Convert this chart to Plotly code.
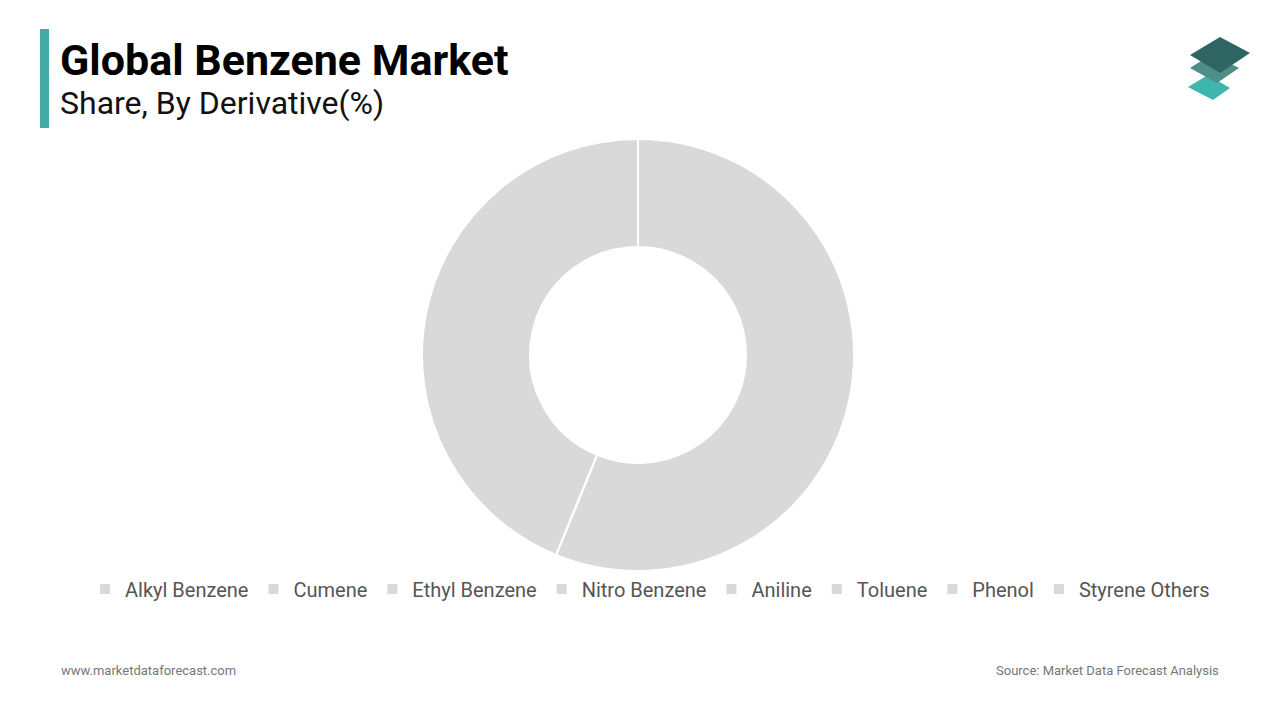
import plotly.graph_objects as go

W, H = 1280, 720
OFF = 8  # page body margin offset

labels = ["Alkyl Benzene", "Cumene", "Ethyl Benzene", "Nitro Benzene",
          "Aniline", "Toluene", "Phenol", "Styrene Others"]
values = [56.2, 0, 0, 0, 0, 0, 0, 43.8]
colors = ["#d9d9d9"] * len(labels)

title = "Global Benzene Market"
subtitle = "Share, By Derivative(%)"
footer_left = "www.marketdataforecast.com"
footer_right = "Source: Market Data Forecast Analysis"


def px(x):
    return (x - OFF) / W


def py(y):
    return 1 - (y - OFF) / H


def path(pts):
    return "M " + " L ".join(f"{px(x)},{py(y)}" for x, y in pts) + " Z"


fig = go.Figure(go.Pie(
    labels=labels,
    values=values,
    hole=0.5,
    sort=False,
    direction="clockwise",
    rotation=0,
    marker=dict(colors=colors, line=dict(color="white", width=2)),
    textinfo="none",
    hoverinfo="label+percent",
    domain=dict(x=[px(638 - 216), px(638 + 216)], y=[py(571), py(139)]),
))

shapes = [
    dict(type="rect", xref="paper", yref="paper",
         x0=px(40), x1=px(49), y0=py(128), y1=py(29),
         fillcolor="#45aaa8", line=dict(width=0)),
    dict(type="path", xref="paper", yref="paper",
         path=path([(1188, 87), (1208, 75), (1230, 88), (1213, 100)]),
         fillcolor="#3fb5b0", line=dict(width=0)),
    dict(type="path", xref="paper", yref="paper",
         path=path([(1190, 68), (1212, 54), (1239, 68), (1217, 83)]),
         fillcolor="#4f8d88", line=dict(width=0)),
    dict(type="path", xref="paper", yref="paper",
         path=path([(1190, 55), (1220, 37), (1250, 53), (1220, 73)]),
         fillcolor="#2e6461", line=dict(width=0)),
]

annotations = [
    dict(text=f"<b>{title}</b>", xref="paper", yref="paper",
         x=px(58), y=py(60), xanchor="left", yanchor="middle",
         showarrow=False, font=dict(family="Roboto", size=43, color="#000000")),
    dict(text=subtitle, xref="paper", yref="paper",
         x=px(58), y=py(103), xanchor="left", yanchor="middle",
         showarrow=False, font=dict(family="Roboto", size=32, color="#111111")),
    dict(text=footer_left, xref="paper", yref="paper",
         x=px(59), y=py(670), xanchor="left", yanchor="middle",
         showarrow=False, font=dict(family="Roboto", size=13, color="#777777")),
    dict(text=footer_right, xref="paper", yref="paper",
         x=px(1221), y=py(670), xanchor="right", yanchor="middle",
         showarrow=False, font=dict(family="Roboto", size=13, color="#777777")),
]

fig.update_layout(
    width=W, height=H,
    margin=dict(l=0, r=0, t=0, b=0),
    paper_bgcolor="white",
    plot_bgcolor="white",
    showlegend=True,
    legend=dict(orientation="h", x=px(650), xanchor="center",
                y=py(589), yanchor="middle",
                font=dict(family="Roboto", size=20, color="#555555"),
                itemsizing="constant", traceorder="normal"),
    shapes=shapes,
    annotations=annotations,
)

fig.write_html("out.html")
